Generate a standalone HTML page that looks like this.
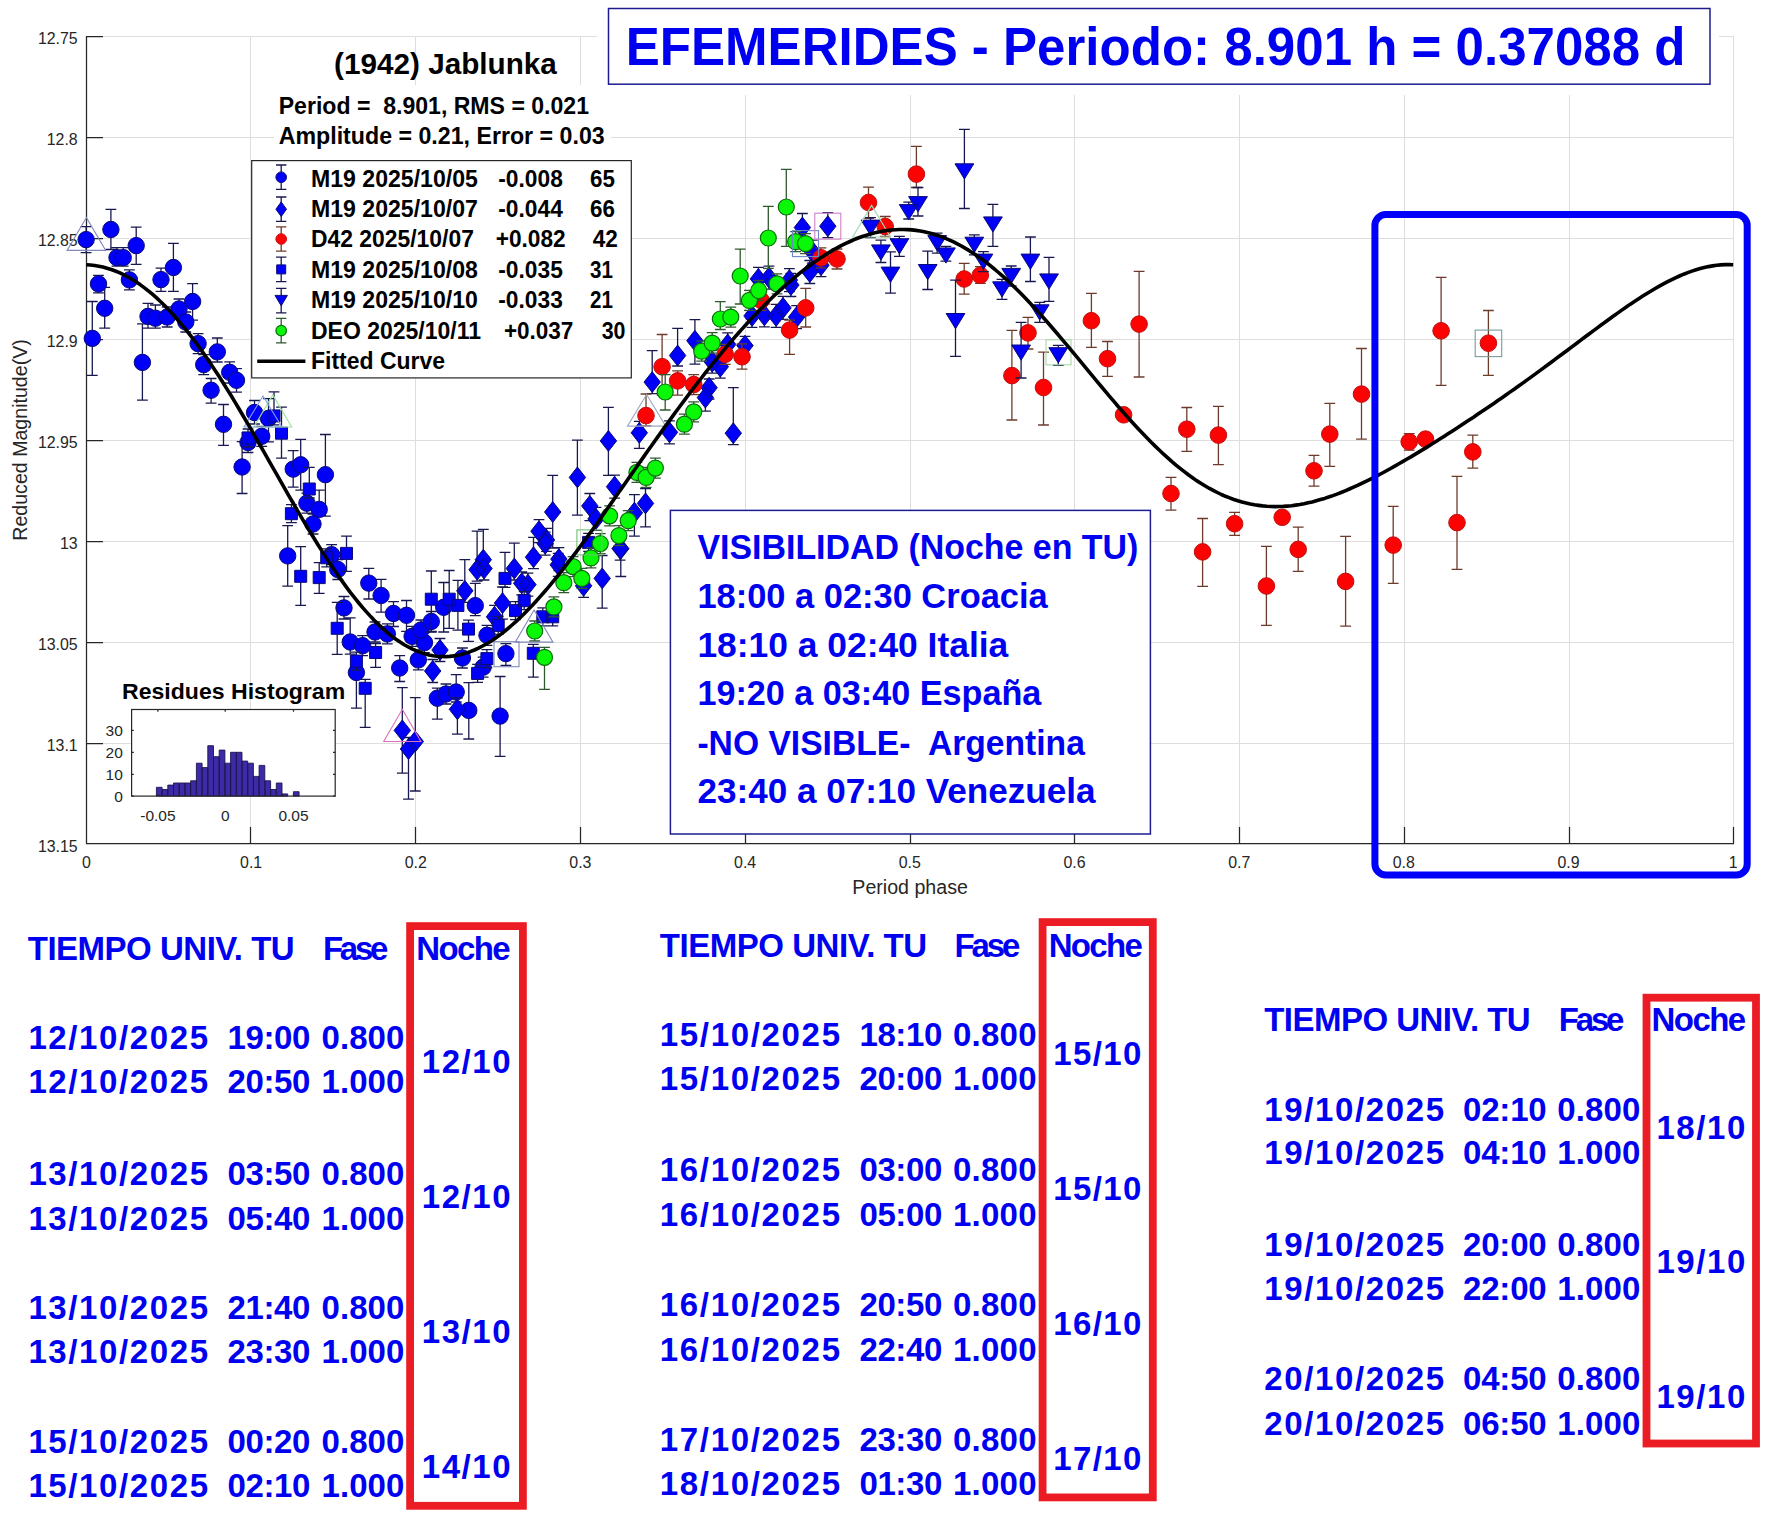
<!DOCTYPE html><html><head><meta charset="utf-8"><title>EFEMERIDES (1942) Jablunka</title><style>html,body{margin:0;padding:0;background:#fff;overflow:hidden;}svg{display:block;}</style></head><body>
<svg width="1777" height="1533" viewBox="0 0 1777 1533" font-family="'Liberation Sans', Arial, sans-serif">
<rect x="0" y="0" width="1777" height="1533" fill="#fff"/>
<path d="M250.5 36V843.5 M415.5 36V843.5 M580.5 36V843.5 M745.5 36V843.5 M910.5 36V843.5 M1074.5 36V843.5 M1239.5 36V843.5 M1404.5 36V843.5 M1569.5 36V843.5 M1733.5 36V843.5 M86.5 36.5H1734 M86.5 137.5H1734 M86.5 238.5H1734 M86.5 339.5H1734 M86.5 440.5H1734 M86.5 541.5H1734 M86.5 642.5H1734 M86.5 743.5H1734" stroke="#dedede" stroke-width="1" fill="none"/>
<rect x="274" y="85" width="337" height="75" fill="#fff"/>
<rect x="597" y="0" width="1122" height="95" fill="#fff"/>
<path d="M86.5 36V843.5H1734" stroke="#262626" stroke-width="1.25" fill="none"/>
<path d="M86.5 36.5H103 M86.5 137.5H103 M86.5 238.5H103 M86.5 339.5H103 M86.5 440.5H103 M86.5 541.5H103 M86.5 642.5H103 M86.5 743.5H103 M250.5 843.5V827 M415.5 843.5V827 M580.5 843.5V827 M745.5 843.5V827 M910.5 843.5V827 M1074.5 843.5V827 M1239.5 843.5V827 M1404.5 843.5V827 M1569.5 843.5V827 M1733.5 843.5V827" stroke="#262626" stroke-width="1.25" fill="none"/>
<g font-size="15.9" fill="#262626"><text x="77.7" y="43.6" text-anchor="end">12.75</text><text x="77.7" y="144.6" text-anchor="end">12.8</text><text x="77.7" y="245.6" text-anchor="end">12.85</text><text x="77.7" y="346.6" text-anchor="end">12.9</text><text x="77.7" y="447.6" text-anchor="end">12.95</text><text x="77.7" y="548.6" text-anchor="end">13</text><text x="77.7" y="649.6" text-anchor="end">13.05</text><text x="77.7" y="750.6" text-anchor="end">13.1</text><text x="77.7" y="851.6" text-anchor="end">13.15</text><text x="86.4" y="867.6" text-anchor="middle">0</text><text x="251.1" y="867.6" text-anchor="middle">0.1</text><text x="415.8" y="867.6" text-anchor="middle">0.2</text><text x="580.4" y="867.6" text-anchor="middle">0.3</text><text x="745.1" y="867.6" text-anchor="middle">0.4</text><text x="909.8" y="867.6" text-anchor="middle">0.5</text><text x="1074.5" y="867.6" text-anchor="middle">0.6</text><text x="1239.2" y="867.6" text-anchor="middle">0.7</text><text x="1403.8" y="867.6" text-anchor="middle">0.8</text><text x="1568.5" y="867.6" text-anchor="middle">0.9</text><text x="1733.2" y="867.6" text-anchor="middle">1</text></g>
<text x="910.1" y="893.5" text-anchor="middle" font-size="19.6" fill="#262626">Period phase</text>
<text transform="translate(27.1 440) rotate(-90)" text-anchor="middle" font-size="19.6" fill="#262626">Reduced Magnitude(V)</text>
<path d="M86.1 226.6V252.6 M80.7 226.6H91.5 M80.7 252.6H91.5 M110.9 209.3V249.5 M105.5 209.3H116.3 M105.5 249.5H116.3 M117 247.6V266.2 M111.6 247.6H122.4 M111.6 266.2H122.4 M123.2 247.6V266.2 M117.8 247.6H128.6 M117.8 266.2H128.6 M136.2 227.2V264.4 M130.8 227.2H141.6 M130.8 264.4H141.6 M129.4 269.9V289.9 M124 269.9H134.8 M124 289.9H134.8 M98.5 275.3V292.9 M93.1 275.3H103.9 M93.1 292.9H103.9 M104.7 287.3V328.1 M99.3 287.3H110.1 M99.3 328.1H110.1 M92.3 301.5V375.4 M86.9 301.5H97.7 M86.9 375.4H97.7 M161 268.1V291.4 M155.6 268.1H166.4 M155.6 291.4H166.4 M173.4 243.3V291.4 M168 243.3H178.8 M168 291.4H178.8 M192.6 283.6V320.1 M187.2 283.6H198 M187.2 320.1H198 M148 303.4V328.1 M142.6 303.4H153.4 M142.6 328.1H153.4 M155.4 305V328.1 M150 305H160.8 M150 328.1H160.8 M167.2 307V327 M161.8 307H172.6 M161.8 327H172.6 M179 299V319 M173.6 299H184.4 M173.6 319H184.4 M185.8 312V332 M180.4 312H191.2 M180.4 332H191.2 M142.4 323.8V400.1 M137 323.8H147.8 M137 400.1H147.8 M198.1 333.6V353.6 M192.7 333.6H203.5 M192.7 353.6H203.5 M217.3 338V362 M211.9 338H222.7 M211.9 362H222.7 M203.7 354.6V374.6 M198.3 354.6H209.1 M198.3 374.6H209.1 M229.7 361.8V383 M224.3 361.8H235.1 M224.3 383H235.1 M236.5 368.6V392.1 M231.1 368.6H241.9 M231.1 392.1H241.9 M211.1 378.5V403.2 M205.7 378.5H216.5 M205.7 403.2H216.5 M223.5 404.5V445.3 M218.1 404.5H228.9 M218.1 445.3H228.9 M254.5 400.5V424 M249.1 400.5H259.9 M249.1 424H259.9 M268.5 398.6V441.9 M263.1 398.6H273.9 M263.1 441.9H273.9 M261.7 426.3V446.3 M256.3 426.3H267.1 M256.3 446.3H267.1 M248 432.5V452.5 M242.6 432.5H253.4 M242.6 452.5H253.4 M242.1 441.6V493.5 M236.7 441.6H247.5 M236.7 493.5H247.5 M293.2 450.6V487.1 M287.8 450.6H298.6 M287.8 487.1H298.6 M300.7 439.4V490.2 M295.3 439.4H306.1 M295.3 490.2H306.1 M325.4 434.5V516.2 M320 434.5H330.8 M320 516.2H330.8 M306.9 493.2V513.2 M301.5 493.2H312.3 M301.5 513.2H312.3 M319.2 490.2V516.2 M313.8 490.2H324.6 M313.8 516.2H324.6 M313 514V534 M307.6 514H318.4 M307.6 534H318.4 M287.7 525.6V586.2 M282.3 525.6H293.1 M282.3 586.2H293.1 M331.6 544.7V564.7 M326.2 544.7H337 M326.2 564.7H337 M337.8 559.5V579.5 M332.4 559.5H343.2 M332.4 579.5H343.2 M368.8 568.3V599 M363.4 568.3H374.2 M363.4 599H374.2 M381.1 579.4V612.2 M375.7 579.4H386.5 M375.7 612.2H386.5 M344 596.5V619 M338.6 596.5H349.4 M338.6 619H349.4 M350.2 617.8V654.2 M344.8 617.8H355.6 M344.8 654.2H355.6 M362.6 635.7V655.7 M357.2 635.7H368 M357.2 655.7H368 M375 622V642 M369.6 622H380.4 M369.6 642H380.4 M387.3 623.9V643.9 M381.9 623.9H392.7 M381.9 643.9H392.7 M356.4 662.5V708.1 M351 662.5H361.8 M351 708.1H361.8 M393.5 601.7V626.5 M388.1 601.7H398.9 M388.1 626.5H398.9 M406.5 600.5V631.4 M401.1 600.5H411.9 M401.1 631.4H411.9 M412.1 626.4V646.4 M406.7 626.4H417.5 M406.7 646.4H417.5 M424.5 632.6V652.6 M419.1 632.6H429.9 M419.1 652.6H429.9 M421 620V640 M415.6 620H426.4 M415.6 640H426.4 M431.3 611.5V631.5 M425.9 611.5H436.7 M425.9 631.5H436.7 M443.7 582.5V632 M438.3 582.5H449.1 M438.3 632H449.1 M418.3 649.9V669.9 M412.9 649.9H423.7 M412.9 669.9H423.7 M399.7 655.6V681.5 M394.3 655.6H405.1 M394.3 681.5H405.1 M462.4 648V668 M457 648H467.8 M457 668H467.8 M437.3 688.2V719.2 M431.9 688.2H442.7 M431.9 719.2H442.7 M446 684V704 M440.6 684H451.4 M440.6 704H451.4 M456.2 674.7V702 M450.8 674.7H461.6 M450.8 702H461.6 M468.8 682.7V739 M463.4 682.7H474.2 M463.4 739H474.2 M500.1 676.5V756.4 M494.7 676.5H505.5 M494.7 756.4H505.5 M505.9 643.6V665.4 M500.5 643.6H511.3 M500.5 665.4H511.3 M475.3 583.3V615.6 M469.9 583.3H480.7 M469.9 615.6H480.7 M487 625.3V645.3 M481.6 625.3H492.4 M481.6 645.3H492.4 M483.1 657.2V677.2 M477.7 657.2H488.5 M477.7 677.2H488.5" stroke="#181850" stroke-width="1.3" fill="none"/>
<g fill="#0000fa" stroke="#0a0a78" stroke-width="1"><circle cx="86.1" cy="239.6" r="8.2"/><circle cx="110.9" cy="229.5" r="8.2"/><circle cx="117" cy="257.6" r="8.2"/><circle cx="123.2" cy="257.6" r="8.2"/><circle cx="136.2" cy="245.6" r="8.2"/><circle cx="129.4" cy="279.9" r="8.2"/><circle cx="98.5" cy="283.9" r="8.2"/><circle cx="104.7" cy="308.3" r="8.2"/><circle cx="92.3" cy="338.4" r="8.2"/><circle cx="161" cy="279.6" r="8.2"/><circle cx="173.4" cy="267.5" r="8.2"/><circle cx="192.6" cy="301.5" r="8.2"/><circle cx="148" cy="316.4" r="8.2"/><circle cx="155.4" cy="318.2" r="8.2"/><circle cx="167.2" cy="317" r="8.2"/><circle cx="179" cy="309" r="8.2"/><circle cx="185.8" cy="322" r="8.2"/><circle cx="142.4" cy="362.4" r="8.2"/><circle cx="198.1" cy="343.6" r="8.2"/><circle cx="217.3" cy="351.9" r="8.2"/><circle cx="203.7" cy="364.6" r="8.2"/><circle cx="229.7" cy="372.3" r="8.2"/><circle cx="236.5" cy="380.3" r="8.2"/><circle cx="211.1" cy="390.2" r="8.2"/><circle cx="223.5" cy="424.3" r="8.2"/><circle cx="254.5" cy="412.5" r="8.2"/><circle cx="268.5" cy="418.4" r="8.2"/><circle cx="261.7" cy="436.3" r="8.2"/><circle cx="248" cy="442.5" r="8.2"/><circle cx="242.1" cy="467" r="8.2"/><circle cx="293.2" cy="469.1" r="8.2"/><circle cx="300.7" cy="464.8" r="8.2"/><circle cx="325.4" cy="474.7" r="8.2"/><circle cx="306.9" cy="503.2" r="8.2"/><circle cx="319.2" cy="509.4" r="8.2"/><circle cx="313" cy="524" r="8.2"/><circle cx="287.7" cy="555.9" r="8.2"/><circle cx="331.6" cy="554.7" r="8.2"/><circle cx="337.8" cy="569.5" r="8.2"/><circle cx="368.8" cy="583.1" r="8.2"/><circle cx="381.1" cy="595.5" r="8.2"/><circle cx="344" cy="607.9" r="8.2"/><circle cx="350.2" cy="642" r="8.2"/><circle cx="362.6" cy="645.7" r="8.2"/><circle cx="375" cy="632" r="8.2"/><circle cx="387.3" cy="633.9" r="8.2"/><circle cx="356.4" cy="672.5" r="8.2"/><circle cx="393.5" cy="613.5" r="8.2"/><circle cx="406.5" cy="615.3" r="8.2"/><circle cx="412.1" cy="636.4" r="8.2"/><circle cx="424.5" cy="642.6" r="8.2"/><circle cx="421" cy="630" r="8.2"/><circle cx="431.3" cy="621.5" r="8.2"/><circle cx="443.7" cy="607.3" r="8.2"/><circle cx="418.3" cy="659.9" r="8.2"/><circle cx="399.7" cy="668" r="8.2"/><circle cx="462.4" cy="658" r="8.2"/><circle cx="437.3" cy="698.2" r="8.2"/><circle cx="446" cy="694" r="8.2"/><circle cx="456.2" cy="692" r="8.2"/><circle cx="468.8" cy="710.4" r="8.2"/><circle cx="500.1" cy="716.1" r="8.2"/><circle cx="505.9" cy="653.6" r="8.2"/><circle cx="475.3" cy="605.6" r="8.2"/><circle cx="487" cy="635.3" r="8.2"/><circle cx="483.1" cy="667.2" r="8.2"/></g>
<path d="M608.4 407.4V475.3 M603 407.4H613.8 M603 475.3H613.8 M577.4 440.2V515.1 M572 440.2H582.8 M572 515.1H582.8 M552.7 475.3V548 M547.3 475.3H558.1 M547.3 548H558.1 M589.8 493.5V520.7 M584.4 493.5H595.2 M584.4 520.7H595.2 M596 507.4V530.4 M590.6 507.4H601.4 M590.6 530.4H601.4 M614.6 475.2V498.2 M609.2 475.2H620 M609.2 498.2H620 M639.3 421.3V448.3 M633.9 421.3H644.7 M633.9 448.3H644.7 M645.5 488.5V526.9 M640.1 488.5H650.9 M640.1 526.9H650.9 M634.4 494.7V536.2 M629 494.7H639.8 M629 536.2H639.8 M620.1 537.1V560.1 M614.7 537.1H625.5 M614.7 560.1H625.5 M539 519.7V542.7 M533.6 519.7H544.4 M533.6 542.7H544.4 M546.5 528.4V551.4 M541.1 528.4H551.9 M541.1 551.4H551.9 M533.5 537.4V568.7 M528.1 537.4H538.9 M528.1 568.7H538.9 M558.9 547.6V570.6 M553.5 547.6H564.3 M553.5 570.6H564.3 M483.3 529.4V571.2 M477.9 529.4H488.7 M477.9 571.2H488.7 M477.1 531.2V581.2 M471.7 531.2H482.5 M471.7 581.2H482.5 M484 557V580 M478.6 557H489.4 M478.6 580H489.4 M464.8 559.6V602.3 M459.4 559.6H470.2 M459.4 602.3H470.2 M502.5 587V619.2 M497.1 587H507.9 M497.1 619.2H507.9 M514.3 543.1V580 M508.9 543.1H519.7 M508.9 580H519.7 M521.7 571.8V594.8 M516.3 571.8H527.1 M516.3 594.8H527.1 M527.9 573.1V596.1 M522.5 573.1H533.3 M522.5 596.1H533.3 M545.2 532.2V555.2 M539.8 532.2H550.6 M539.8 555.2H550.6 M558.2 553.3V576.3 M552.8 553.3H563.6 M552.8 576.3H563.6 M583.6 574.3V597.3 M578.2 574.3H589 M578.2 597.3H589 M602.2 555.5V608.1 M596.8 555.5H607.6 M596.8 608.1H607.6 M620.8 537.2V576.5 M615.4 537.2H626.2 M615.4 576.5H626.2 M494.5 605.3V628.3 M489.1 605.3H499.9 M489.1 628.3H499.9 M440 638.5V661.5 M434.6 638.5H445.4 M434.6 661.5H445.4 M432.7 659.5V682.5 M427.3 659.5H438.1 M427.3 682.5H438.1 M457.4 697.8V734.1 M452 697.8H462.8 M452 734.1H462.8 M402.3 687.7V773.1 M396.9 687.7H407.7 M396.9 773.1H407.7 M408.5 737.5V799.1 M403.1 737.5H413.9 M403.1 799.1H413.9 M415.3 697.6V791 M409.9 697.6H420.7 M409.9 791H420.7 M652.2 350.6V393.6 M646.8 350.6H657.6 M646.8 393.6H657.6 M677.6 328.3V366 M672.2 328.3H683 M672.2 366H683 M694.9 319.6V364.2 M689.5 319.6H700.3 M689.5 364.2H700.3 M712.2 350.2V373.2 M706.8 350.2H717.6 M706.8 373.2H717.6 M720.3 355.2V378.2 M714.9 355.2H725.7 M714.9 378.2H725.7 M709.1 379V399.2 M703.7 379H714.5 M703.7 399.2H714.5 M705.4 386.1V411.2 M700 386.1H710.8 M700 411.2H710.8 M669.5 420.8V443.8 M664.1 420.8H674.9 M664.1 443.8H674.9 M727.7 332.9V355.9 M722.3 332.9H733.1 M722.3 355.9H733.1 M745 336.3V357.1 M739.6 336.3H750.4 M739.6 357.1H750.4 M733.3 387.7V444.7 M727.9 387.7H738.7 M727.9 444.7H738.7 M752 304.4V327.4 M746.6 304.4H757.4 M746.6 327.4H757.4 M764.4 303.8V326.8 M759 303.8H769.8 M759 326.8H769.8 M776.1 304.4V327.4 M770.7 304.4H781.5 M770.7 327.4H781.5 M783 296.4V319.4 M777.6 296.4H788.4 M777.6 319.4H788.4 M796.6 305.6V328.6 M791.2 305.6H802 M791.2 328.6H802 M790.9 273.5V296.5 M785.5 273.5H796.3 M785.5 296.5H796.3 M802.4 213.5V239 M797 213.5H807.8 M797 239H807.8 M827.8 212.6V237.7 M822.4 212.6H833.2 M822.4 237.7H833.2 M789.4 268.6V291.6 M784 268.6H794.8 M784 291.6H794.8 M809.8 260.5V283.5 M804.4 260.5H815.2 M804.4 283.5H815.2 M821 253.7V276.7 M815.6 253.7H826.4 M815.6 276.7H826.4 M812.3 240.1V263.1 M806.9 240.1H817.7 M806.9 263.1H817.7 M758.4 267.4V290.4 M753 267.4H763.8 M753 290.4H763.8 M769 266.1V289.1 M763.6 266.1H774.4 M763.6 289.1H774.4" stroke="#181850" stroke-width="1.3" fill="none"/>
<path d="M608.4 430.5L616.6 440.9L608.4 451.3L600.2 440.9ZM577.4 467L585.6 477.4L577.4 487.8L569.2 477.4ZM552.7 501.6L560.9 512L552.7 522.4L544.5 512ZM589.8 495.5L598 505.9L589.8 516.3L581.6 505.9ZM596 508.5L604.2 518.9L596 529.3L587.8 518.9ZM614.6 476.3L622.8 486.7L614.6 497.1L606.4 486.7ZM639.3 422.4L647.5 432.8L639.3 443.2L631.1 432.8ZM645.5 493L653.7 503.4L645.5 513.8L637.3 503.4ZM634.4 502.3L642.6 512.7L634.4 523.1L626.2 512.7ZM620.1 538.2L628.3 548.6L620.1 559L611.9 548.6ZM539 520.8L547.2 531.2L539 541.6L530.8 531.2ZM546.5 529.5L554.7 539.9L546.5 550.3L538.3 539.9ZM533.5 546.8L541.7 557.2L533.5 567.6L525.3 557.2ZM558.9 548.7L567.1 559.1L558.9 569.5L550.7 559.1ZM483.3 549.3L491.5 559.7L483.3 570.1L475.1 559.7ZM477.1 559.3L485.3 569.7L477.1 580.1L468.9 569.7ZM484 558.1L492.2 568.5L484 578.9L475.8 568.5ZM464.8 580.4L473 590.8L464.8 601.2L456.6 590.8ZM502.5 592.7L510.7 603.1L502.5 613.5L494.3 603.1ZM514.3 558.1L522.5 568.5L514.3 578.9L506.1 568.5ZM521.7 572.9L529.9 583.3L521.7 593.7L513.5 583.3ZM527.9 574.2L536.1 584.6L527.9 595L519.7 584.6ZM545.2 533.3L553.4 543.7L545.2 554.1L537 543.7ZM558.2 554.4L566.4 564.8L558.2 575.2L550 564.8ZM583.6 575.4L591.8 585.8L583.6 596.2L575.4 585.8ZM602.2 568L610.4 578.4L602.2 588.8L594 578.4ZM620.8 538.3L629 548.7L620.8 559.1L612.6 548.7ZM494.5 606.4L502.7 616.8L494.5 627.2L486.3 616.8ZM440 639.6L448.2 650L440 660.4L431.8 650ZM432.7 660.6L440.9 671L432.7 681.4L424.5 671ZM457.4 698.9L465.6 709.3L457.4 719.7L449.2 709.3ZM402.3 720L410.5 730.4L402.3 740.8L394.1 730.4ZM408.5 738.6L416.7 749L408.5 759.4L400.3 749ZM415.3 731.1L423.5 741.5L415.3 751.9L407.1 741.5ZM652.2 371.7L660.4 382.1L652.2 392.5L644 382.1ZM677.6 345.1L685.8 355.5L677.6 365.9L669.4 355.5ZM694.9 330.3L703.1 340.7L694.9 351.1L686.7 340.7ZM712.2 351.3L720.4 361.7L712.2 372.1L704 361.7ZM720.3 356.3L728.5 366.7L720.3 377.1L712.1 366.7ZM709.1 377.3L717.3 387.7L709.1 398.1L700.9 387.7ZM705.4 387.2L713.6 397.6L705.4 408L697.2 397.6ZM669.5 421.9L677.7 432.3L669.5 442.7L661.3 432.3ZM727.7 334L735.9 344.4L727.7 354.8L719.5 344.4ZM745 335.2L753.2 345.6L745 356L736.8 345.6ZM733.3 422.8L741.5 433.2L733.3 443.6L725.1 433.2ZM752 305.5L760.2 315.9L752 326.3L743.8 315.9ZM764.4 304.9L772.6 315.3L764.4 325.7L756.2 315.3ZM776.1 305.5L784.3 315.9L776.1 326.3L767.9 315.9ZM783 297.5L791.2 307.9L783 318.3L774.8 307.9ZM796.6 306.7L804.8 317.1L796.6 327.5L788.4 317.1ZM790.9 274.6L799.1 285L790.9 295.4L782.7 285ZM802.4 217.1L810.6 227.5L802.4 237.9L794.2 227.5ZM827.8 215.8L836 226.2L827.8 236.6L819.6 226.2ZM789.4 269.7L797.6 280.1L789.4 290.5L781.2 280.1ZM809.8 261.6L818 272L809.8 282.4L801.6 272ZM821 254.8L829.2 265.2L821 275.6L812.8 265.2ZM812.3 241.2L820.5 251.6L812.3 262L804.1 251.6ZM758.4 268.5L766.6 278.9L758.4 289.3L750.2 278.9ZM769 267.2L777.2 277.6L769 288L760.8 277.6Z" fill="#0000fa" stroke="#0a0a78" stroke-width="1"/>
<path d="M646 394V426 M640.6 394H651.4 M640.6 426H651.4 M662.1 334.5V395.1 M656.7 334.5H667.5 M656.7 395.1H667.5 M677.6 370.9V395.1 M672.2 370.9H683 M672.2 395.1H683 M693.7 374.6V394.6 M688.3 374.6H699.1 M688.3 394.6H699.1 M725.2 344.3V364.3 M719.8 344.3H730.6 M719.8 364.3H730.6 M742 343.8V369.1 M736.6 343.8H747.4 M736.6 369.1H747.4 M761.1 290.4V310.4 M755.7 290.4H766.5 M755.7 310.4H766.5 M789.6 320.1V354.3 M784.2 320.1H795 M784.2 354.3H795 M805.7 288.4V327 M800.3 288.4H811.1 M800.3 327H811.1 M821 247.8V267.8 M815.6 247.8H826.4 M815.6 267.8H826.4 M837 249V269 M831.6 249H842.4 M831.6 269H842.4 M868.5 187.2V218.3 M863.1 187.2H873.9 M863.1 218.3H873.9 M885.2 216.5V236.5 M879.8 216.5H890.6 M879.8 236.5H890.6 M916.4 146.4V187.5 M911 146.4H921.8 M911 187.5H921.8 M964.2 263.3V294.2 M958.8 263.3H969.6 M958.8 294.2H969.6 M980.3 266.6V283.3 M974.9 266.6H985.7 M974.9 283.3H985.7 M1028 317.4V349 M1022.6 317.4H1033.4 M1022.6 349H1033.4 M1011.9 330.4V420 M1006.5 330.4H1017.3 M1006.5 420H1017.3 M1043.5 352.2V425 M1038.1 352.2H1048.9 M1038.1 425H1048.9 M1091.4 293.4V347.3 M1086 293.4H1096.8 M1086 347.3H1096.8 M1139.1 271.4V377 M1133.7 271.4H1144.5 M1133.7 377H1144.5 M1107.5 341.5V376.4 M1102.1 341.5H1112.9 M1102.1 376.4H1112.9 M1186.8 407.5V451.4 M1181.4 407.5H1192.2 M1181.4 451.4H1192.2 M1218.4 406.4V464.6 M1213 406.4H1223.8 M1213 464.6H1223.8 M1171 477.4V510.2 M1165.6 477.4H1176.4 M1165.6 510.2H1176.4 M1234.6 512.3V535.4 M1229.2 512.3H1240 M1229.2 535.4H1240 M1202.6 518.5V586.3 M1197.2 518.5H1208 M1197.2 586.3H1208 M1266.4 546.3V625.3 M1261 546.3H1271.8 M1261 625.3H1271.8 M1298.2 527.1V571.3 M1292.8 527.1H1303.6 M1292.8 571.3H1303.6 M1314 455.3V486.2 M1308.6 455.3H1319.4 M1308.6 486.2H1319.4 M1329.8 403.3V466.3 M1324.4 403.3H1335.2 M1324.4 466.3H1335.2 M1345.6 536.4V626.2 M1340.2 536.4H1351 M1340.2 626.2H1351 M1361.5 348.5V439.1 M1356.1 348.5H1366.9 M1356.1 439.1H1366.9 M1393.2 506.3V583.3 M1387.8 506.3H1398.6 M1387.8 583.3H1398.6 M1409.2 433.7V450.2 M1403.8 433.7H1414.6 M1403.8 450.2H1414.6 M1441.1 277.3V385.3 M1435.7 277.3H1446.5 M1435.7 385.3H1446.5 M1457 476.3V569.4 M1451.6 476.3H1462.4 M1451.6 569.4H1462.4 M1472.8 435.2V468.2 M1467.4 435.2H1478.2 M1467.4 468.2H1478.2 M1488.4 310.5V375.4 M1483 310.5H1493.8 M1483 375.4H1493.8" stroke="#6e3b2a" stroke-width="1.3" fill="none"/>
<g fill="#fc0303" stroke="#c01010" stroke-width="1"><circle cx="646" cy="415.6" r="8.3"/><circle cx="662.1" cy="366.7" r="8.3"/><circle cx="677.6" cy="380.9" r="8.3"/><circle cx="693.7" cy="384.6" r="8.3"/><circle cx="725.2" cy="354.3" r="8.3"/><circle cx="742" cy="356.8" r="8.3"/><circle cx="761.1" cy="300.4" r="8.3"/><circle cx="789.6" cy="330.1" r="8.3"/><circle cx="805.7" cy="307.9" r="8.3"/><circle cx="821" cy="257.8" r="8.3"/><circle cx="837" cy="259" r="8.3"/><circle cx="868.5" cy="202.5" r="8.3"/><circle cx="885.2" cy="226.5" r="8.3"/><circle cx="916.4" cy="174.1" r="8.3"/><circle cx="964.2" cy="279" r="8.3"/><circle cx="980.3" cy="275.3" r="8.3"/><circle cx="1028" cy="332.9" r="8.3"/><circle cx="1011.9" cy="375.6" r="8.3"/><circle cx="1043.5" cy="387.5" r="8.3"/><circle cx="1091.4" cy="320.7" r="8.3"/><circle cx="1139.1" cy="324.1" r="8.3"/><circle cx="1107.5" cy="358.7" r="8.3"/><circle cx="1123.6" cy="414.8" r="8.3"/><circle cx="1186.8" cy="429.2" r="8.3"/><circle cx="1218.4" cy="435.1" r="8.3"/><circle cx="1171" cy="493.5" r="8.3"/><circle cx="1234.6" cy="523.7" r="8.3"/><circle cx="1202.6" cy="551.9" r="8.3"/><circle cx="1266.4" cy="586" r="8.3"/><circle cx="1282.2" cy="517.3" r="8.3"/><circle cx="1298.2" cy="549.4" r="8.3"/><circle cx="1314" cy="470.8" r="8.3"/><circle cx="1329.8" cy="434.1" r="8.3"/><circle cx="1345.6" cy="581.4" r="8.3"/><circle cx="1361.5" cy="394.1" r="8.3"/><circle cx="1393.2" cy="545.1" r="8.3"/><circle cx="1409.2" cy="441.8" r="8.3"/><circle cx="1425.5" cy="439.1" r="8.3"/><circle cx="1441.1" cy="330.8" r="8.3"/><circle cx="1457" cy="522.6" r="8.3"/><circle cx="1472.8" cy="451.9" r="8.3"/><circle cx="1488.4" cy="343.2" r="8.3"/></g>
<path d="M274 391.8V424.9 M268.6 391.8H279.4 M268.6 424.9H279.4 M281.5 407.2V458.2 M276.1 407.2H286.9 M276.1 458.2H286.9 M309.3 467.3V498 M303.9 467.3H314.7 M303.9 498H314.7 M291.4 504.7V522.7 M286 504.7H296.8 M286 522.7H296.8 M300.7 546.6V605.4 M295.3 546.6H306.1 M295.3 605.4H306.1 M319.2 562.7V593.3 M313.8 562.7H324.6 M313.8 593.3H324.6 M326.7 548.8V566.8 M321.3 548.8H332.1 M321.3 566.8H332.1 M346.5 536.1V571.4 M341.1 536.1H351.9 M341.1 571.4H351.9 M337.2 602.3V654.3 M331.8 602.3H342.6 M331.8 654.3H342.6 M375.6 643.5V667.3 M370.2 643.5H381 M370.2 667.3H381 M356.4 652.1V670.1 M351 652.1H361.8 M351 670.1H361.8 M365.2 679.3V727.3 M359.8 679.3H370.6 M359.8 727.3H370.6 M431.3 571V632 M425.9 571H436.7 M425.9 632H436.7 M449.2 570.5V628.3 M443.8 570.5H454.6 M443.8 628.3H454.6 M457.9 580.4V630.2 M452.5 580.4H463.3 M452.5 630.2H463.3 M468.5 620.1V641.3 M463.1 620.1H473.9 M463.1 641.3H473.9 M498.2 616.4V634.4 M492.8 616.4H503.6 M492.8 634.4H503.6 M505 552.4V587.4 M499.6 552.4H510.4 M499.6 587.4H510.4 M524.2 591.7V609.7 M518.8 591.7H529.6 M518.8 609.7H529.6 M515.5 601.6V619.6 M510.1 601.6H520.9 M510.1 619.6H520.9 M542.8 607.8V625.8 M537.4 607.8H548.2 M537.4 625.8H548.2 M552.7 607.8V625.8 M547.3 607.8H558.1 M547.3 625.8H558.1 M533.3 644.3V677.1 M527.9 644.3H538.7 M527.9 677.1H538.7 M588.6 533.4V551.4 M583.2 533.4H594 M583.2 551.4H594 M486.9 649.6V667.6 M481.5 649.6H492.3 M481.5 667.6H492.3 M477.6 664.4V682.4 M472.2 664.4H483 M472.2 682.4H483 M248 429V447 M242.6 429H253.4 M242.6 447H253.4" stroke="#181850" stroke-width="1.3" fill="none"/>
<path d="M268 409.9h12v12h-12ZM275.5 427.2h12v12h-12ZM303.3 483h12v12h-12ZM285.4 507.7h12v12h-12ZM294.7 570.3h12v12h-12ZM313.2 571.6h12v12h-12ZM320.7 551.8h12v12h-12ZM340.5 547.4h12v12h-12ZM331.2 622.3h12v12h-12ZM369.6 646.5h12v12h-12ZM350.4 655.1h12v12h-12ZM359.2 682.3h12v12h-12ZM425.3 593.2h12v12h-12ZM443.2 593.2h12v12h-12ZM451.9 599.4h12v12h-12ZM462.5 623.1h12v12h-12ZM492.2 619.4h12v12h-12ZM499 572.4h12v12h-12ZM518.2 594.7h12v12h-12ZM509.5 604.6h12v12h-12ZM536.8 610.8h12v12h-12ZM546.7 610.8h12v12h-12ZM527.3 647.3h12v12h-12ZM582.6 536.4h12v12h-12ZM480.9 652.6h12v12h-12ZM471.6 667.4h12v12h-12ZM242 432h12v12h-12Z" fill="#0000fa" stroke="#0a0a78" stroke-width="1"/>
<path d="M964.4 129.3V208.5 M959 129.3H969.8 M959 208.5H969.8 M870.5 217.7V237.7 M865.1 217.7H875.9 M865.1 237.7H875.9 M908.7 202.2V219 M903.3 202.2H914.1 M903.3 219H914.1 M918 187.5V216 M912.6 187.5H923.4 M912.6 216H923.4 M880.9 240.1V262.5 M875.5 240.1H886.3 M875.5 262.5H886.3 M899.4 236.4V256.3 M894 236.4H904.8 M894 256.3H904.8 M890.5 251.8V293.2 M885.1 251.8H895.9 M885.1 293.2H895.9 M927.7 251.1V289.5 M922.3 251.1H933.1 M922.3 289.5H933.1 M937.2 233.2V253.2 M931.8 233.2H942.6 M931.8 253.2H942.6 M945.9 246.3V261.1 M940.5 246.3H951.3 M940.5 261.1H951.3 M974.3 234.8V254.8 M968.9 234.8H979.7 M968.9 254.8H979.7 M992.9 204.4V246.3 M987.5 204.4H998.3 M987.5 246.3H998.3 M983.4 251.7V271.7 M978 251.7H988.8 M978 271.7H988.8 M1002 279.4V299.4 M996.6 279.4H1007.4 M996.6 299.4H1007.4 M1011.2 266V286 M1005.8 266H1016.6 M1005.8 286H1016.6 M1030.4 237V281.5 M1025 237H1035.8 M1025 281.5H1035.8 M1049 257.3V301.3 M1043.6 257.3H1054.4 M1043.6 301.3H1054.4 M1039.7 302.4V322.4 M1034.3 302.4H1045.1 M1034.3 322.4H1045.1 M955.5 280.2V356.4 M950.1 280.2H960.9 M950.1 356.4H960.9 M1021.1 322.3V378 M1015.7 322.3H1026.5 M1015.7 378H1026.5 M1058.3 345.3V365.3 M1052.9 345.3H1063.7 M1052.9 365.3H1063.7" stroke="#181850" stroke-width="1.3" fill="none"/>
<path d="M955 163.8L973.8 163.8L964.4 179ZM861.1 220.1L879.9 220.1L870.5 235.3ZM899.3 204.6L918.1 204.6L908.7 219.8ZM908.6 196.6L927.4 196.6L918 211.8ZM871.5 244.9L890.3 244.9L880.9 260.1ZM890 238.7L908.8 238.7L899.4 253.9ZM881.1 267.1L899.9 267.1L890.5 282.3ZM918.3 264.5L937.1 264.5L927.7 279.7ZM927.8 235.6L946.6 235.6L937.2 250.8ZM936.5 247.9L955.3 247.9L945.9 263.1ZM964.9 237.2L983.7 237.2L974.3 252.4ZM983.5 216.9L1002.3 216.9L992.9 232.1ZM974 254.1L992.8 254.1L983.4 269.3ZM992.6 281.8L1011.4 281.8L1002 297ZM1001.8 268.4L1020.6 268.4L1011.2 283.6ZM1021 254.1L1039.8 254.1L1030.4 269.3ZM1039.6 273.9L1058.4 273.9L1049 289.1ZM1030.3 304.8L1049.1 304.8L1039.7 320ZM946.1 313.5L964.9 313.5L955.5 328.7ZM1011.7 345L1030.5 345L1021.1 360.2ZM1048.9 347.7L1067.7 347.7L1058.3 362.9Z" fill="#0000fa" stroke="#0a0a78" stroke-width="1"/>
<path d="M636.9 462.4V482.4 M631.5 462.4H642.3 M631.5 482.4H642.3 M646.1 467.4V487.4 M640.7 467.4H651.5 M640.7 487.4H651.5 M655.4 458.1V478.1 M650 458.1H660.8 M650 478.1H660.8 M609.6 505.8V525.8 M604.2 505.8H615 M604.2 525.8H615 M628.2 510.7V530.7 M622.8 510.7H633.6 M622.8 530.7H633.6 M618.9 525.6V545.6 M613.5 525.6H624.3 M613.5 545.6H624.3 M600.3 533.6V553.6 M594.9 533.6H605.7 M594.9 553.6H605.7 M591 547.9V567.9 M585.6 547.9H596.4 M585.6 567.9H596.4 M563.8 572.7V592.7 M558.4 572.7H569.2 M558.4 592.7H569.2 M573.1 556.6V576.6 M567.7 556.6H578.5 M567.7 576.6H578.5 M581.8 568.4V588.4 M576.4 568.4H587.2 M576.4 588.4H587.2 M553.9 596.9V616.9 M548.5 596.9H559.3 M548.5 616.9H559.3 M534.7 621V641 M529.3 621H540.1 M529.3 641H540.1 M544.5 647.3V689.3 M539.1 647.3H549.9 M539.1 689.3H549.9 M665.2 374.7V410 M659.8 374.7H670.6 M659.8 410H670.6 M701.7 341.2V361.2 M696.3 341.2H707.1 M696.3 361.2H707.1 M712.2 332.6V353.1 M706.8 332.6H717.6 M706.8 353.1H717.6 M693.7 401.9V421.9 M688.3 401.9H699.1 M688.3 421.9H699.1 M684.4 414.2V434.2 M679 414.2H689.8 M679 434.2H689.8 M720.3 301.7V329.5 M714.9 301.7H725.7 M714.9 329.5H725.7 M730.8 307.1V327.1 M725.4 307.1H736.2 M725.4 327.1H736.2 M749.4 290.4V310.4 M744 290.4H754.8 M744 310.4H754.8 M758.7 280.5V300.5 M753.3 280.5H764.1 M753.3 300.5H764.1 M740.2 249.1V304 M734.8 249.1H745.6 M734.8 304H745.6 M777 273.8V293.8 M771.6 273.8H782.4 M771.6 293.8H782.4 M768.3 206.4V268.3 M762.9 206.4H773.7 M762.9 268.3H773.7 M786.3 169.3V246.3 M780.9 169.3H791.7 M780.9 246.3H791.7 M795.6 231.7V251.7 M790.2 231.7H801 M790.2 251.7H801 M805.5 233.6V253.6 M800.1 233.6H810.9 M800.1 253.6H810.9" stroke="#2f5a2f" stroke-width="1.3" fill="none"/>
<g fill="#08f808" stroke="#0a6e0a" stroke-width="1.2"><circle cx="636.9" cy="472.4" r="8.0"/><circle cx="646.1" cy="477.4" r="8.0"/><circle cx="655.4" cy="468.1" r="8.0"/><circle cx="609.6" cy="515.8" r="8.0"/><circle cx="628.2" cy="520.7" r="8.0"/><circle cx="618.9" cy="535.6" r="8.0"/><circle cx="600.3" cy="543.6" r="8.0"/><circle cx="591" cy="557.9" r="8.0"/><circle cx="563.8" cy="582.7" r="8.0"/><circle cx="573.1" cy="566.6" r="8.0"/><circle cx="581.8" cy="578.4" r="8.0"/><circle cx="553.9" cy="606.9" r="8.0"/><circle cx="534.7" cy="631" r="8.0"/><circle cx="544.5" cy="657.3" r="8.0"/><circle cx="665.2" cy="392" r="8.0"/><circle cx="701.7" cy="351.2" r="8.0"/><circle cx="712.2" cy="343.1" r="8.0"/><circle cx="693.7" cy="411.9" r="8.0"/><circle cx="684.4" cy="424.2" r="8.0"/><circle cx="720.3" cy="319" r="8.0"/><circle cx="730.8" cy="317.1" r="8.0"/><circle cx="749.4" cy="300.4" r="8.0"/><circle cx="758.7" cy="290.5" r="8.0"/><circle cx="740.2" cy="276" r="8.0"/><circle cx="777" cy="283.8" r="8.0"/><circle cx="768.3" cy="238" r="8.0"/><circle cx="786.3" cy="207" r="8.0"/><circle cx="795.6" cy="241.7" r="8.0"/><circle cx="805.5" cy="243.6" r="8.0"/></g>
<path d="M86.4 217.5L105.7 250.4L67.1 250.4Z" fill="none" stroke="#7f88b8" stroke-width="1.1"/>
<path d="M272.8 394.9L291.7 427L253.9 427Z" fill="none" stroke="#9fe09f" stroke-width="1.1"/>
<path d="M263 396L281.9 427L244.1 427Z" fill="none" stroke="#7fa0e0" stroke-width="1.1"/>
<path d="M402.3 709.3L420.9 741.5L383.7 741.5Z" fill="none" stroke="#e070c0" stroke-width="1.1"/>
<path d="M534.1 610L553 642.1L515.2 642.1Z" fill="none" stroke="#7f88b8" stroke-width="1.1"/>
<path d="M646.6 394.5L665.8 426.1L627.4 426.1Z" fill="none" stroke="#9aa8c0" stroke-width="1.1"/>
<path d="M871.6 205.4L890.5 237L852.7 237Z" fill="none" stroke="#a0d8b0" stroke-width="1.1"/>
<rect x="494" y="641.7" width="25" height="25" fill="none" stroke="#7f88b8" stroke-width="1.1"/>
<rect x="576.9" y="529.9" width="25" height="25" fill="none" stroke="#70c070" stroke-width="1.1"/>
<rect x="792.5" y="230.6" width="26" height="26" fill="none" stroke="#6f88c8" stroke-width="1.1"/>
<rect x="814.8" y="213.2" width="26" height="26" fill="none" stroke="#d080c8" stroke-width="1.1"/>
<rect x="1046" y="339.8" width="25" height="25" fill="none" stroke="#a8d8a8" stroke-width="1.1"/>
<rect x="1475.2" y="330.1" width="26.5" height="26.5" fill="none" stroke="#7a9a9a" stroke-width="1.1"/>
<path d="M86.4 264.7 L90.5 265.0 L94.7 265.5 L98.8 266.2 L102.9 267.1 L107.0 268.2 L111.2 269.5 L115.3 271.0 L119.4 272.7 L123.5 274.7 L127.7 276.8 L131.8 279.2 L135.9 281.8 L140.1 284.6 L144.2 287.6 L148.3 290.8 L152.4 294.2 L156.6 297.9 L160.7 301.7 L164.8 305.8 L168.9 310.1 L173.1 314.5 L177.2 319.2 L181.3 324.1 L185.5 329.1 L189.6 334.3 L193.7 339.7 L197.8 345.3 L202.0 351.1 L206.1 357.0 L210.2 363.0 L214.3 369.2 L218.5 375.6 L222.6 382.0 L226.7 388.6 L230.9 395.3 L235.0 402.1 L239.1 409.0 L243.2 416.0 L247.4 423.1 L251.5 430.2 L255.6 437.3 L259.7 444.5 L263.9 451.8 L268.0 459.1 L272.1 466.3 L276.3 473.6 L280.4 480.9 L284.5 488.1 L288.6 495.3 L292.8 502.5 L296.9 509.6 L301.0 516.7 L305.1 523.7 L309.3 530.6 L313.4 537.3 L317.5 544.0 L321.7 550.6 L325.8 557.1 L329.9 563.4 L334.0 569.5 L338.2 575.5 L342.3 581.4 L346.4 587.1 L350.5 592.6 L354.7 597.9 L358.8 603.0 L362.9 607.9 L367.1 612.6 L371.2 617.1 L375.3 621.4 L379.4 625.4 L383.6 629.2 L387.7 632.8 L391.8 636.1 L395.9 639.2 L400.1 642.1 L404.2 644.7 L408.3 647.0 L412.5 649.1 L416.6 650.9 L420.7 652.5 L424.8 653.8 L429.0 654.9 L433.1 655.7 L437.2 656.2 L441.3 656.5 L445.5 656.6 L449.6 656.4 L453.7 655.9 L457.9 655.2 L462.0 654.3 L466.1 653.1 L470.2 651.7 L474.4 650.0 L478.5 648.1 L482.6 646.0 L486.7 643.7 L490.9 641.2 L495.0 638.4 L499.1 635.5 L503.3 632.4 L507.4 629.0 L511.5 625.5 L515.6 621.9 L519.8 618.0 L523.9 614.0 L528.0 609.8 L532.2 605.5 L536.3 601.0 L540.4 596.4 L544.5 591.7 L548.7 586.9 L552.8 581.9 L556.9 576.8 L561.0 571.6 L565.2 566.4 L569.3 561.0 L573.4 555.6 L577.6 550.1 L581.7 544.5 L585.8 538.9 L589.9 533.2 L594.1 527.5 L598.2 521.7 L602.3 515.9 L606.4 510.0 L610.6 504.1 L614.7 498.2 L618.8 492.3 L623.0 486.4 L627.1 480.5 L631.2 474.6 L635.3 468.7 L639.5 462.8 L643.6 456.9 L647.7 451.0 L651.8 445.2 L656.0 439.4 L660.1 433.6 L664.2 427.8 L668.4 422.1 L672.5 416.4 L676.6 410.8 L680.7 405.2 L684.9 399.6 L689.0 394.1 L693.1 388.7 L697.2 383.3 L701.4 378.0 L705.5 372.7 L709.6 367.5 L713.8 362.4 L717.9 357.3 L722.0 352.3 L726.1 347.4 L730.3 342.5 L734.4 337.7 L738.5 333.0 L742.6 328.4 L746.8 323.8 L750.9 319.3 L755.0 314.9 L759.2 310.6 L763.3 306.4 L767.4 302.3 L771.5 298.2 L775.7 294.3 L779.8 290.4 L783.9 286.7 L788.0 283.0 L792.2 279.5 L796.3 276.0 L800.4 272.7 L804.6 269.4 L808.7 266.3 L812.8 263.3 L816.9 260.4 L821.1 257.6 L825.2 254.9 L829.3 252.4 L833.4 249.9 L837.6 247.6 L841.7 245.4 L845.8 243.4 L850.0 241.5 L854.1 239.7 L858.2 238.0 L862.3 236.5 L866.5 235.2 L870.6 233.9 L874.7 232.8 L878.8 231.9 L883.0 231.1 L887.1 230.5 L891.2 230.0 L895.4 229.7 L899.5 229.5 L903.6 229.5 L907.7 229.6 L911.9 229.9 L916.0 230.4 L920.1 231.0 L924.2 231.8 L928.4 232.7 L932.5 233.8 L936.6 235.1 L940.8 236.5 L944.9 238.1 L949.0 239.8 L953.1 241.7 L957.3 243.8 L961.4 246.0 L965.5 248.4 L969.6 250.9 L973.8 253.6 L977.9 256.4 L982.0 259.3 L986.2 262.4 L990.3 265.7 L994.4 269.0 L998.5 272.5 L1002.7 276.1 L1006.8 279.9 L1010.9 283.8 L1015.0 287.7 L1019.2 291.8 L1023.3 296.0 L1027.4 300.3 L1031.6 304.7 L1035.7 309.1 L1039.8 313.7 L1043.9 318.3 L1048.1 323.0 L1052.2 327.7 L1056.3 332.5 L1060.4 337.4 L1064.6 342.3 L1068.7 347.2 L1072.8 352.2 L1077.0 357.1 L1081.1 362.1 L1085.2 367.1 L1089.3 372.1 L1093.5 377.1 L1097.6 382.1 L1101.7 387.0 L1105.8 391.9 L1110.0 396.8 L1114.1 401.7 L1118.2 406.5 L1122.4 411.2 L1126.5 415.9 L1130.6 420.5 L1134.7 425.0 L1138.9 429.5 L1143.0 433.8 L1147.1 438.1 L1151.2 442.3 L1155.4 446.4 L1159.5 450.3 L1163.6 454.2 L1167.8 457.9 L1171.9 461.6 L1176.0 465.1 L1180.1 468.4 L1184.3 471.7 L1188.4 474.8 L1192.5 477.7 L1196.6 480.6 L1200.8 483.2 L1204.9 485.8 L1209.0 488.2 L1213.2 490.4 L1217.3 492.5 L1221.4 494.5 L1225.5 496.3 L1229.7 497.9 L1233.8 499.5 L1237.9 500.8 L1242.0 502.0 L1246.2 503.1 L1250.3 504.0 L1254.4 504.8 L1258.6 505.4 L1262.7 505.9 L1266.8 506.3 L1270.9 506.5 L1275.1 506.6 L1279.2 506.5 L1283.3 506.4 L1287.4 506.1 L1291.6 505.7 L1295.7 505.1 L1299.8 504.5 L1304.0 503.7 L1308.1 502.8 L1312.2 501.9 L1316.3 500.8 L1320.5 499.6 L1324.6 498.4 L1328.7 497.0 L1332.9 495.6 L1337.0 494.1 L1341.1 492.5 L1345.2 490.8 L1349.4 489.0 L1353.5 487.2 L1357.6 485.4 L1361.7 483.4 L1365.9 481.4 L1370.0 479.4 L1374.1 477.3 L1378.3 475.1 L1382.4 473.0 L1386.5 470.7 L1390.6 468.5 L1394.8 466.1 L1398.9 463.8 L1403.0 461.4 L1407.1 459.0 L1411.3 456.6 L1415.4 454.1 L1419.5 451.6 L1423.7 449.1 L1427.8 446.6 L1431.9 444.0 L1436.0 441.4 L1440.2 438.8 L1444.3 436.2 L1448.4 433.6 L1452.5 430.9 L1456.7 428.2 L1460.8 425.6 L1464.9 422.8 L1469.1 420.1 L1473.2 417.4 L1477.3 414.6 L1481.4 411.8 L1485.6 409.0 L1489.7 406.2 L1493.8 403.4 L1497.9 400.5 L1502.1 397.7 L1506.2 394.8 L1510.3 391.9 L1514.5 389.0 L1518.6 386.0 L1522.7 383.1 L1526.8 380.1 L1531.0 377.1 L1535.1 374.1 L1539.2 371.1 L1543.3 368.1 L1547.5 365.0 L1551.6 362.0 L1555.7 358.9 L1559.9 355.8 L1564.0 352.8 L1568.1 349.7 L1572.2 346.6 L1576.4 343.5 L1580.5 340.4 L1584.6 337.3 L1588.7 334.2 L1592.9 331.1 L1597.0 328.1 L1601.1 325.0 L1605.3 322.0 L1609.4 319.0 L1613.5 316.0 L1617.6 313.1 L1621.8 310.1 L1625.9 307.3 L1630.0 304.4 L1634.1 301.7 L1638.3 298.9 L1642.4 296.3 L1646.5 293.7 L1650.7 291.2 L1654.8 288.7 L1658.9 286.4 L1663.0 284.1 L1667.2 281.9 L1671.3 279.8 L1675.4 277.8 L1679.5 276.0 L1683.7 274.2 L1687.8 272.6 L1691.9 271.1 L1696.1 269.8 L1700.2 268.6 L1704.3 267.5 L1708.4 266.6 L1712.6 265.9 L1716.7 265.3 L1720.8 264.9 L1724.9 264.6 L1729.1 264.6 L1733.2 264.7" stroke="#000" stroke-width="3.6" fill="none" stroke-linejoin="round"/>
<g font-weight="bold" fill="#000">
<text x="334.1" y="73.9" font-size="29.7" textLength="222.8" lengthAdjust="spacingAndGlyphs">(1942) Jablunka</text>
<text x="278.7" y="113.7" font-size="23" textLength="310.3" lengthAdjust="spacingAndGlyphs" xml:space="preserve">Period =  8.901, RMS = 0.021</text>
<text x="278.7" y="143.7" font-size="23" textLength="326" lengthAdjust="spacingAndGlyphs">Amplitude = 0.21, Error = 0.03</text>
</g>
<rect x="251.7" y="160.6" width="379.6" height="217.3" fill="#fff" stroke="#262626" stroke-width="1.2"/>
<g font-weight="bold" font-size="23" fill="#000">
<text x="311" y="186.8" textLength="166.9" lengthAdjust="spacingAndGlyphs">M19 2025/10/05</text>
<text x="498.3" y="186.8" textLength="64.5" lengthAdjust="spacingAndGlyphs">-0.008</text>
<text x="590.1" y="186.8" textLength="24.9" lengthAdjust="spacingAndGlyphs">65</text>
<text x="311" y="216.8" textLength="166.9" lengthAdjust="spacingAndGlyphs">M19 2025/10/07</text>
<text x="498.3" y="216.8" textLength="64.5" lengthAdjust="spacingAndGlyphs">-0.044</text>
<text x="590.1" y="216.8" textLength="24.9" lengthAdjust="spacingAndGlyphs">66</text>
<text x="311" y="247.2" textLength="162.9" lengthAdjust="spacingAndGlyphs">D42 2025/10/07</text>
<text x="495.7" y="247.2" textLength="70" lengthAdjust="spacingAndGlyphs">+0.082</text>
<text x="592.8" y="247.2" textLength="25.1" lengthAdjust="spacingAndGlyphs">42</text>
<text x="311" y="277.7" textLength="166.9" lengthAdjust="spacingAndGlyphs">M19 2025/10/08</text>
<text x="498.3" y="277.7" textLength="64.5" lengthAdjust="spacingAndGlyphs">-0.035</text>
<text x="590.1" y="277.7" textLength="22.9" lengthAdjust="spacingAndGlyphs">31</text>
<text x="311" y="308.3" textLength="166.9" lengthAdjust="spacingAndGlyphs">M19 2025/10/10</text>
<text x="498.3" y="308.3" textLength="64.5" lengthAdjust="spacingAndGlyphs">-0.033</text>
<text x="590.1" y="308.3" textLength="22.9" lengthAdjust="spacingAndGlyphs">21</text>
<text x="311" y="339.4" textLength="170" lengthAdjust="spacingAndGlyphs">DEO 2025/10/11</text>
<text x="503.9" y="339.4" textLength="69.5" lengthAdjust="spacingAndGlyphs">+0.037</text>
<text x="601.7" y="339.4" textLength="23.8" lengthAdjust="spacingAndGlyphs">30</text>
<text x="311" y="369.4" textLength="134" lengthAdjust="spacingAndGlyphs">Fitted Curve</text>
</g>
<path d="M281.2 165V189.4M276 165H286.4M276 189.4H286.4" stroke="#181850" stroke-width="1.3" fill="none"/><path d="M281.2 197V221.4M276 197H286.4M276 221.4H286.4" stroke="#181850" stroke-width="1.3" fill="none"/><path d="M281.2 226.8V251.2M276 226.8H286.4M276 251.2H286.4" stroke="#6e3b2a" stroke-width="1.3" fill="none"/><path d="M281.2 257.2V281.6M276 257.2H286.4M276 281.6H286.4" stroke="#181850" stroke-width="1.3" fill="none"/><path d="M281.2 288.4V312.8M276 288.4H286.4M276 312.8H286.4" stroke="#181850" stroke-width="1.3" fill="none"/><path d="M281.2 318.4V342.8M276 318.4H286.4M276 342.8H286.4" stroke="#2f5a2f" stroke-width="1.3" fill="none"/>
<g fill="#0000fa" stroke="#0a0a78" stroke-width="1"><circle cx="281.2" cy="177.2" r="5.3"/></g>
<path d="M281.2 201.9L286.5 209.2L281.2 216.5L275.9 209.2Z" fill="#0000fa" stroke="#0a0a78" stroke-width="1"/>
<g fill="#fa0505" stroke="#c81010" stroke-width="1"><circle cx="281.2" cy="239" r="5.3"/></g>
<path d="M276.7 264.9h9v9h-9Z" fill="#0000fa" stroke="#0a0a78" stroke-width="1"/>
<path d="M275 295.4L287.4 295.4L281.2 305.8Z" fill="#0000fa" stroke="#0a0a78" stroke-width="1"/>
<g fill="#0af50a" stroke="#0a6e0a" stroke-width="1.2"><circle cx="281.2" cy="330.6" r="5.3"/></g>
<path d="M257.2 361.2H305.4" stroke="#000" stroke-width="3.6"/>
<text x="122" y="698.5" font-weight="bold" font-size="21.5" textLength="223.2" lengthAdjust="spacingAndGlyphs" fill="#000">Residues Histogram</text>
<rect x="131.6" y="709.5" width="203.6" height="86.6" fill="#fff"/>
<path d="M156.4 787.3h5.7v8.8h-5.7Z M162.1 789.5h5.7v6.6h-5.7Z M167.8 785.1h5.7v10.9h-5.7Z M173.5 783h5.7v13.1h-5.7Z M179.2 783h5.7v13.1h-5.7Z M184.9 783h5.7v13.1h-5.7Z M190.6 780.8h5.7v15.3h-5.7Z M196.4 763.2h5.7v32.9h-5.7Z M202.1 767.6h5.7v28.5h-5.7Z M207.8 745.7h5.7v50.4h-5.7Z M213.5 756.7h5.7v39.4h-5.7Z M219.2 750.1h5.7v46h-5.7Z M224.9 763.2h5.7v32.9h-5.7Z M230.6 752.3h5.7v43.8h-5.7Z M236.3 752.3h5.7v43.8h-5.7Z M242 761.1h5.7v35h-5.7Z M247.7 763.2h5.7v32.9h-5.7Z M253.4 776.4h5.7v19.7h-5.7Z M259.1 765.4h5.7v30.7h-5.7Z M264.9 780.8h5.7v15.3h-5.7Z M270.6 789.5h5.7v6.6h-5.7Z M276.3 783h5.7v13.1h-5.7Z M282 793.9h5.7v2.2h-5.7Z M293.4 791.7h5.7v4.4h-5.7Z" fill="#3c2aa6" stroke="#1e1650" stroke-width="0.9"/>
<rect x="131.6" y="709.5" width="203.6" height="86.6" fill="none" stroke="#262626" stroke-width="1.2"/>
<path d="M131.6 796.1h2.2M335.2 796.1h-2.2 M131.6 774.3h2.2M335.2 774.3h-2.2 M131.6 752.4h2.2M335.2 752.4h-2.2 M131.6 730.4h2.2M335.2 730.4h-2.2 M157.9 796.1v-2.2M157.9 709.5v2.2 M225.2 796.1v-2.2M225.2 709.5v2.2 M293.5 796.1v-2.2M293.5 709.5v2.2" stroke="#262626" stroke-width="1.2"/>
<g font-size="15.5" fill="#262626">
<text x="122.8" y="801.6" text-anchor="end">0</text>
<text x="122.8" y="779.8" text-anchor="end">10</text>
<text x="122.8" y="757.9" text-anchor="end">20</text>
<text x="122.8" y="735.9" text-anchor="end">30</text>
<text x="157.9" y="820.7" text-anchor="middle">-0.05</text>
<text x="225.2" y="820.7" text-anchor="middle">0</text>
<text x="293.5" y="820.7" text-anchor="middle">0.05</text>
</g>
<rect x="670.4" y="510.4" width="480" height="323.6" fill="#fff" stroke="#1c1c90" stroke-width="1.5"/>
<g font-weight="bold" font-size="34.5" fill="#0000f0">
<text x="697.4" y="559.1" textLength="440.9" lengthAdjust="spacingAndGlyphs" xml:space="preserve">VISIBILIDAD (Noche en TU)</text>
<text x="697.4" y="607.8" textLength="350.3" lengthAdjust="spacingAndGlyphs" xml:space="preserve">18:00 a 02:30 Croacia</text>
<text x="697.4" y="656.7" textLength="310.9" lengthAdjust="spacingAndGlyphs" xml:space="preserve">18:10 a 02:40 Italia</text>
<text x="697.4" y="705.4" textLength="343.9" lengthAdjust="spacingAndGlyphs" xml:space="preserve">19:20 a 03:40 España</text>
<text x="697.4" y="754.6" textLength="387.5" lengthAdjust="spacingAndGlyphs" xml:space="preserve">-NO VISIBLE-  Argentina</text>
<text x="697.4" y="803.3" textLength="398.2" lengthAdjust="spacingAndGlyphs" xml:space="preserve">23:40 a 07:10 Venezuela</text>
</g>
<rect x="608.5" y="8.5" width="1101.5" height="75.7" fill="#fff" stroke="#1c1c90" stroke-width="1.5"/>
<text x="625.8" y="64.6" font-weight="bold" font-size="53" fill="#0000f0" textLength="1059.7" lengthAdjust="spacingAndGlyphs">EFEMERIDES - Periodo: 8.901 h = 0.37088 d</text>
<rect x="1374.9" y="214.5" width="372.3" height="660.5" rx="11" ry="11" fill="none" stroke="#0000fa" stroke-width="7"/>
<g fill="none" stroke="#ec1c24" stroke-width="7.8">
<rect x="410.1" y="926.1" width="112.8" height="579.7"/>
<rect x="1042.6" y="922.1" width="110.2" height="575.3"/>
<rect x="1646.5" y="997.7" width="109.5" height="445.8"/>
</g>
<g font-weight="bold" font-size="33" fill="#0000f0" lengthAdjust="spacingAndGlyphs">
<text x="27.7" y="959.8" textLength="267">TIEMPO UNIV. TU</text><text x="323" y="959.8" textLength="65.3">Fase</text><text x="416.3" y="959.8" textLength="94.4">Noche</text><text x="28.4" y="1048.7" textLength="179.6">12/10/2025</text><text x="227.5" y="1048.7" textLength="82.9">19:00</text><text x="321.5" y="1048.7" textLength="82.8">0.800</text><text x="28.4" y="1093.4" textLength="179.6">12/10/2025</text><text x="227.5" y="1093.4" textLength="82.9">20:50</text><text x="321.5" y="1093.4" textLength="82.8">1.000</text><text x="28.4" y="1184.7" textLength="179.6">13/10/2025</text><text x="227.5" y="1184.7" textLength="82.9">03:50</text><text x="321.5" y="1184.7" textLength="82.8">0.800</text><text x="28.4" y="1229.8" textLength="179.6">13/10/2025</text><text x="227.5" y="1229.8" textLength="82.9">05:40</text><text x="321.5" y="1229.8" textLength="82.8">1.000</text><text x="28.4" y="1319" textLength="179.6">13/10/2025</text><text x="227.5" y="1319" textLength="82.9">21:40</text><text x="321.5" y="1319" textLength="82.8">0.800</text><text x="28.4" y="1363" textLength="179.6">13/10/2025</text><text x="227.5" y="1363" textLength="82.9">23:30</text><text x="321.5" y="1363" textLength="82.8">1.000</text><text x="28.4" y="1452.6" textLength="179.6">15/10/2025</text><text x="227.5" y="1452.6" textLength="82.9">00:20</text><text x="321.5" y="1452.6" textLength="82.8">0.800</text><text x="28.4" y="1497" textLength="179.6">15/10/2025</text><text x="227.5" y="1497" textLength="82.9">02:10</text><text x="321.5" y="1497" textLength="82.8">1.000</text><text x="421.7" y="1073.3" textLength="88.9">12/10</text><text x="421.7" y="1208.3" textLength="88.9">12/10</text><text x="421.7" y="1343.2" textLength="88.9">13/10</text><text x="421.7" y="1478.1" textLength="88.9">14/10</text>
<text x="659.8" y="956.7" textLength="267.3">TIEMPO UNIV. TU</text><text x="954.5" y="956.7" textLength="65.9">Fase</text><text x="1048.7" y="956.7" textLength="94.2">Noche</text><text x="659.8" y="1046.3" textLength="180.2">15/10/2025</text><text x="859.4" y="1046.3" textLength="82.9">18:10</text><text x="953" y="1046.3" textLength="83.5">0.800</text><text x="659.8" y="1090.4" textLength="180.2">15/10/2025</text><text x="859.4" y="1090.4" textLength="82.9">20:00</text><text x="953" y="1090.4" textLength="83.5">1.000</text><text x="659.8" y="1181.4" textLength="180.2">16/10/2025</text><text x="859.4" y="1181.4" textLength="82.9">03:00</text><text x="953" y="1181.4" textLength="83.5">0.800</text><text x="659.8" y="1225.5" textLength="180.2">16/10/2025</text><text x="859.4" y="1225.5" textLength="82.9">05:00</text><text x="953" y="1225.5" textLength="83.5">1.000</text><text x="659.8" y="1316" textLength="180.2">16/10/2025</text><text x="859.4" y="1316" textLength="82.9">20:50</text><text x="953" y="1316" textLength="83.5">0.800</text><text x="659.8" y="1360.7" textLength="180.2">16/10/2025</text><text x="859.4" y="1360.7" textLength="82.9">22:40</text><text x="953" y="1360.7" textLength="83.5">1.000</text><text x="659.8" y="1450.9" textLength="180.2">17/10/2025</text><text x="859.4" y="1450.9" textLength="82.9">23:30</text><text x="953" y="1450.9" textLength="83.5">0.800</text><text x="659.8" y="1495.3" textLength="180.2">18/10/2025</text><text x="859.4" y="1495.3" textLength="82.9">01:30</text><text x="953" y="1495.3" textLength="83.5">1.000</text><text x="1053.2" y="1065.1" textLength="88.2">15/10</text><text x="1053.2" y="1200.2" textLength="88.2">15/10</text><text x="1053.2" y="1334.9" textLength="88.2">16/10</text><text x="1053.2" y="1470.1" textLength="88.2">17/10</text>
<text x="1264.2" y="1031.4" textLength="266.5">TIEMPO UNIV. TU</text><text x="1558.8" y="1031.4" textLength="65.6">Fase</text><text x="1651.6" y="1031.4" textLength="94.6">Noche</text><text x="1264.2" y="1120.5" textLength="179.8">19/10/2025</text><text x="1463" y="1120.5" textLength="83.7">02:10</text><text x="1557.3" y="1120.5" textLength="83.1">0.800</text><text x="1264.2" y="1164.3" textLength="179.8">19/10/2025</text><text x="1463" y="1164.3" textLength="83.7">04:10</text><text x="1557.3" y="1164.3" textLength="83.1">1.000</text><text x="1264.2" y="1255.9" textLength="179.8">19/10/2025</text><text x="1463" y="1255.9" textLength="83.7">20:00</text><text x="1557.3" y="1255.9" textLength="83.1">0.800</text><text x="1264.2" y="1300.3" textLength="179.8">19/10/2025</text><text x="1463" y="1300.3" textLength="83.7">22:00</text><text x="1557.3" y="1300.3" textLength="83.1">1.000</text><text x="1264.2" y="1390.1" textLength="179.8">20/10/2025</text><text x="1463" y="1390.1" textLength="83.7">04:50</text><text x="1557.3" y="1390.1" textLength="83.1">0.800</text><text x="1264.2" y="1434.8" textLength="179.8">20/10/2025</text><text x="1463" y="1434.8" textLength="83.7">06:50</text><text x="1557.3" y="1434.8" textLength="83.1">1.000</text><text x="1656.4" y="1138.7" textLength="88.9">18/10</text><text x="1656.4" y="1273.1" textLength="88.9">19/10</text><text x="1656.4" y="1408.2" textLength="88.9">19/10</text>
</g>
</svg></body></html>
